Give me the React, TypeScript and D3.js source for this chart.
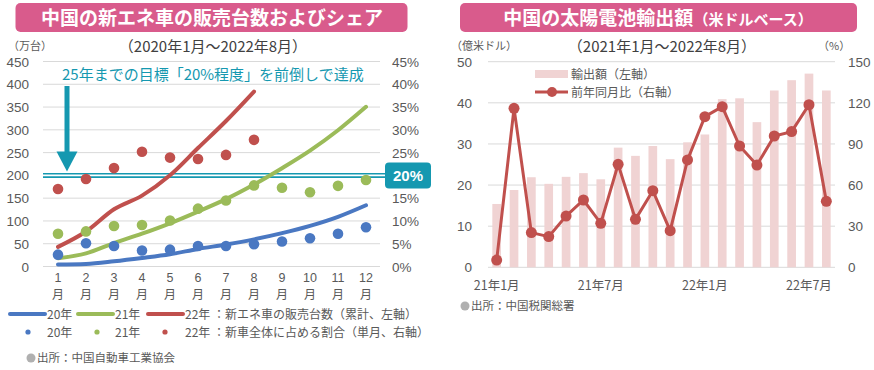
import * as d3 from 'd3';

// 中国の新エネ車 (万台, 累計)
const months = [1, 2, 3, 4, 5, 6, 7, 8, 9, 10, 11, 12];
const cum20 = [4.4, 5.7, 11.4, 18.6, 26.8, 38.5, 48.3, 59.6, 73.2, 89.2, 109.1, 134.5];
const cum21 = [17.9, 28.9, 51.5, 72.1, 94.9, 120.6, 147.8, 179.8, 215.7, 254.2, 299.0, 350.5];
const cum22 = [43.1, 76.8, 125.7, 155.6, 200.3, 260.0, 319.4, 384.0];
// 新車全体に占める割合 (%)
const share20 = [2.6, 5.1, 4.5, 3.5, 3.7, 4.5, 4.5, 4.9, 5.5, 6.2, 7.2, 8.6];
const share21 = [7.2, 7.7, 8.9, 9.1, 10.1, 12.7, 14.5, 17.8, 17.3, 16.3, 17.7, 19.0];
const share22 = [17.0, 19.2, 21.6, 25.2, 23.9, 23.6, 24.5, 27.8];
const leftTicks = [0, 50, 100, 150, 200, 250, 300, 350, 400, 450];
// 20% is drawn as the highlighted box
const rightTicks = [0, 5, 10, 15, 25, 30, 35, 40, 45];

// 太陽電池輸出額
const solarMonths = [
  '21年1月', '21年2月', '21年3月', '21年4月', '21年5月', '21年6月', '21年7月', '21年8月', '21年9月', '21年10月',
  '21年11月', '21年12月', '22年1月', '22年2月', '22年3月', '22年4月', '22年5月', '22年6月', '22年7月', '22年8月',
];
const exports = [15.4, 18.8, 21.9, 20.3, 22.0, 22.9, 21.4, 29.1, 27.1, 29.5, 26.3, 30.4, 32.3, 40.9, 41.1, 35.3, 43.0, 45.5, 47.1, 43.0];
const yoy = [5.3, 116, 25.3, 22.4, 37.4, 49.1, 32.1, 75.1, 35.0, 55.9, 26.7, 78.3, 109.9, 117.2, 88.5, 74.6, 95.8, 99.0, 118.6, 48.1];
const solarShown = ['21年1月', '21年7月', '22年1月', '22年7月'];
const solarLeftTicks = [0, 10, 20, 30, 40, 50];
const solarRightTicks = [0, 30, 60, 90, 120, 150];

const BLUE = '#4a78c2';
const GREEN = '#9bbb59';
const RED = '#c0504d';
const TEAL = '#1598b0';
const PINK = '#d95b8c';
const GRID = '#d9d9d9';
const TXT = '#595959';
const NUM = '"Liberation Sans", Arial, "Noto Sans CJK JP", sans-serif';
const JP = '"Noto Sans CJK JP", "Liberation Sans", sans-serif';

function NevChart() {
  const x = d3.scaleBand<number>().domain(months).range([44, 380]);
  const cx = (m: number) => (x(m) ?? 0) + x.bandwidth() / 2;
  const yL = d3.scaleLinear().domain([0, 450]).range([266.5, 61.5]);
  const yR = d3.scaleLinear().domain([0, 45]).range([266.5, 61.5]);
  const line = d3
    .line<number>()
    .x((_, i) => cx(months[i]))
    .y((d) => yL(d))
    .curve(d3.curveMonotoneX);
  const series = [
    { name: '20年', cum: cum20, share: share20, color: BLUE },
    { name: '21年', cum: cum21, share: share21, color: GREEN },
    { name: '22年', cum: cum22, share: share22, color: RED },
  ];
  const y20 = yR(20);
  return (
    <g>
      <rect x={15.5} y={3} width={392} height={29} rx={5} fill={PINK} />
      <text x={212} y={25} textAnchor="middle" fill="#fff" fontFamily={JP} fontWeight={700} fontSize={19}>
        中国の新エネ車の販売台数およびシェア
      </text>
      <text x={213} y={52} textAnchor="middle" fill="#404040" fontFamily={JP} fontSize={15}>
        （2020年1月～2022年8月）
      </text>
      <text x={8} y={50} fill={TXT} fontFamily={JP} fontSize={11}>
        （万台）
      </text>
      {leftTicks.map((t) => (
        <g key={t}>
          <line x1={43} x2={380} y1={yL(t)} y2={yL(t)} stroke={GRID} strokeWidth={1} />
          <text x={29} y={yL(t) + 5} textAnchor="end" fill={TXT} fontFamily={NUM} fontSize={13.5}>
            {t}
          </text>
        </g>
      ))}
      {rightTicks.map((t) => (
        <text key={t} x={392} y={yR(t) + 5} fill={TXT} fontFamily={NUM} fontSize={13.5}>
          {t}%
        </text>
      ))}
      {months.map((m) => (
        <g key={m} fill={TXT} textAnchor="middle">
          <text x={cx(m)} y={282} fontFamily={NUM} fontSize={12.5}>
            {m}
          </text>
          <text x={cx(m)} y={299} fontFamily={JP} fontSize={12}>
            月
          </text>
        </g>
      ))}
      {/* 20% line */}
      <line x1={43} x2={390} y1={y20} y2={y20} stroke={TEAL} strokeWidth={5} />
      <line x1={43} x2={390} y1={y20} y2={y20} stroke="#fff" strokeWidth={1.6} />
      <rect x={385} y={162.5} width={46} height={26} rx={4} fill={TEAL} />
      <text x={408} y={181} textAnchor="middle" fill="#fff" fontFamily={NUM} fontWeight={700} fontSize={15}>
        20%
      </text>
      {/* arrow */}
      <rect x={64.5} y={86} width={5} height={66} fill={TEAL} />
      <path d={`M56.5,151.5 L77.5,151.5 L67,171.5 Z`} fill={TEAL} />
      <text x={62} y={80} fill={TEAL} fontFamily={JP} fontSize={15}>
        25年までの目標「20%程度」を前倒しで達成
      </text>
      {series.map((s) => (
        <path key={s.name} d={line(s.cum) ?? ''} fill="none" stroke={s.color} strokeWidth={4} strokeLinecap="round" />
      ))}
      {series.map((s) =>
        s.share.map((v, i) => <circle key={s.name + i} cx={cx(months[i])} cy={yR(v)} r={5.3} fill={s.color} />)
      )}
      {/* legend */}
      {series.map((s, i) => {
        const lx = [10, 78, 148][i];
        return (
          <g key={s.name}>
            <line x1={lx} x2={lx + 35} y1={314} y2={314} stroke={s.color} strokeWidth={4} strokeLinecap="round" />
            <text x={lx + 37} y={318.5} fill={TXT} fontFamily={JP} fontSize={12}>
              {s.name}
            </text>
            <circle cx={[28, 97, 165][i]} cy={332} r={2.6} fill={s.color} />
            <text x={lx + 37} y={336.5} fill={TXT} fontFamily={JP} fontSize={12}>
              {s.name}
            </text>
          </g>
        );
      })}
      <text x={213} y={318.5} fill={TXT} fontFamily={JP} fontSize={12}>
        ：新エネ車の販売台数（累計、左軸）
      </text>
      <text x={213} y={336.5} fill={TXT} fontFamily={JP} fontSize={12}>
        ：新車全体に占める割合（単月、右軸）
      </text>
      <circle cx={31} cy={358} r={4.5} fill="#b0b0b0" />
      <text x={37} y={362} fill={TXT} fontFamily={JP} fontSize={11.5}>
        出所：中国自動車工業協会
      </text>
    </g>
  );
}

function SolarChart() {
  const x = d3.scaleBand<string>().domain(solarMonths).range([488, 835]).paddingInner(0.5).paddingOuter(0.25);
  const cx = (m: string) => (x(m) ?? 0) + x.bandwidth() / 2;
  const yL = d3.scaleLinear().domain([0, 50]).range([267.3, 61.7]);
  const yR = d3.scaleLinear().domain([0, 150]).range([267.3, 61.7]);
  const line = d3
    .line<number>()
    .x((_, i) => cx(solarMonths[i]))
    .y((d) => yR(d));
  return (
    <g>
      <rect x={460} y={3} width={397} height={29} rx={5} fill={PINK} />
      <text x={658} y={25} textAnchor="middle" fill="#fff" fontFamily={JP} fontWeight={700} fontSize={19}>
        中国の太陽電池輸出額<tspan fontSize={15}>（米ドルベース）</tspan>
      </text>
      <text x={662} y={52} textAnchor="middle" fill="#404040" fontFamily={JP} fontSize={15}>
        （2021年1月～2022年8月）
      </text>
      <text x={451} y={50} fill={TXT} fontFamily={JP} fontSize={11}>
        （億米ドル）
      </text>
      <text x={818} y={50} fill={TXT} fontFamily={JP} fontSize={11}>
        （%）
      </text>
      {solarLeftTicks.map((t) => (
        <g key={t}>
          <line x1={488} x2={835} y1={yL(t)} y2={yL(t)} stroke={GRID} strokeWidth={1} />
          <text x={472} y={yL(t) + 5} textAnchor="end" fill={TXT} fontFamily={NUM} fontSize={13.5}>
            {t}
          </text>
        </g>
      ))}
      {solarRightTicks.map((t) => (
        <text key={t} x={848} y={yR(t) + 5} fill={TXT} fontFamily={NUM} fontSize={13.5}>
          {t}
        </text>
      ))}
      {exports.map((v, i) => (
        <rect key={i} x={x(solarMonths[i])} y={yL(v)} width={x.bandwidth()} height={yL(0) - yL(v)} fill="#f0d3d3" />
      ))}
      <path d={line(yoy) ?? ''} fill="none" stroke={RED} strokeWidth={3} />
      {yoy.map((v, i) => (
        <circle key={i} cx={cx(solarMonths[i])} cy={yR(v)} r={5.5} fill={RED} />
      ))}
      {solarShown.map((m) => (
        <text key={m} x={cx(m)} y={290} textAnchor="middle" fill={TXT} fontFamily={JP} fontSize={12.5}>
          {m}
        </text>
      ))}
      {/* legend */}
      <rect x={535} y={70} width={33} height={8} fill="#f0d3d3" />
      <text x={571} y={78.5} fill={TXT} fontFamily={JP} fontSize={12}>
        輸出額（左軸）
      </text>
      <line x1={535} x2={568} y1={92} y2={92} stroke={RED} strokeWidth={3} />
      <circle cx={552} cy={92} r={5} fill={RED} />
      <text x={571} y={96.5} fill={TXT} fontFamily={JP} fontSize={12}>
        前年同月比（右軸）
      </text>
      <circle cx={465} cy={306} r={4.5} fill="#b0b0b0" />
      <text x={471} y={310} fill={TXT} fontFamily={JP} fontSize={11.5}>
        出所：中国税関総署
      </text>
    </g>
  );
}

export default function App() {
  return (
    <svg width={874} height={370} style={{ position: 'absolute', left: 0, top: 0, background: '#fff' }}>
      <NevChart />
      <SolarChart />
    </svg>
  );
}
